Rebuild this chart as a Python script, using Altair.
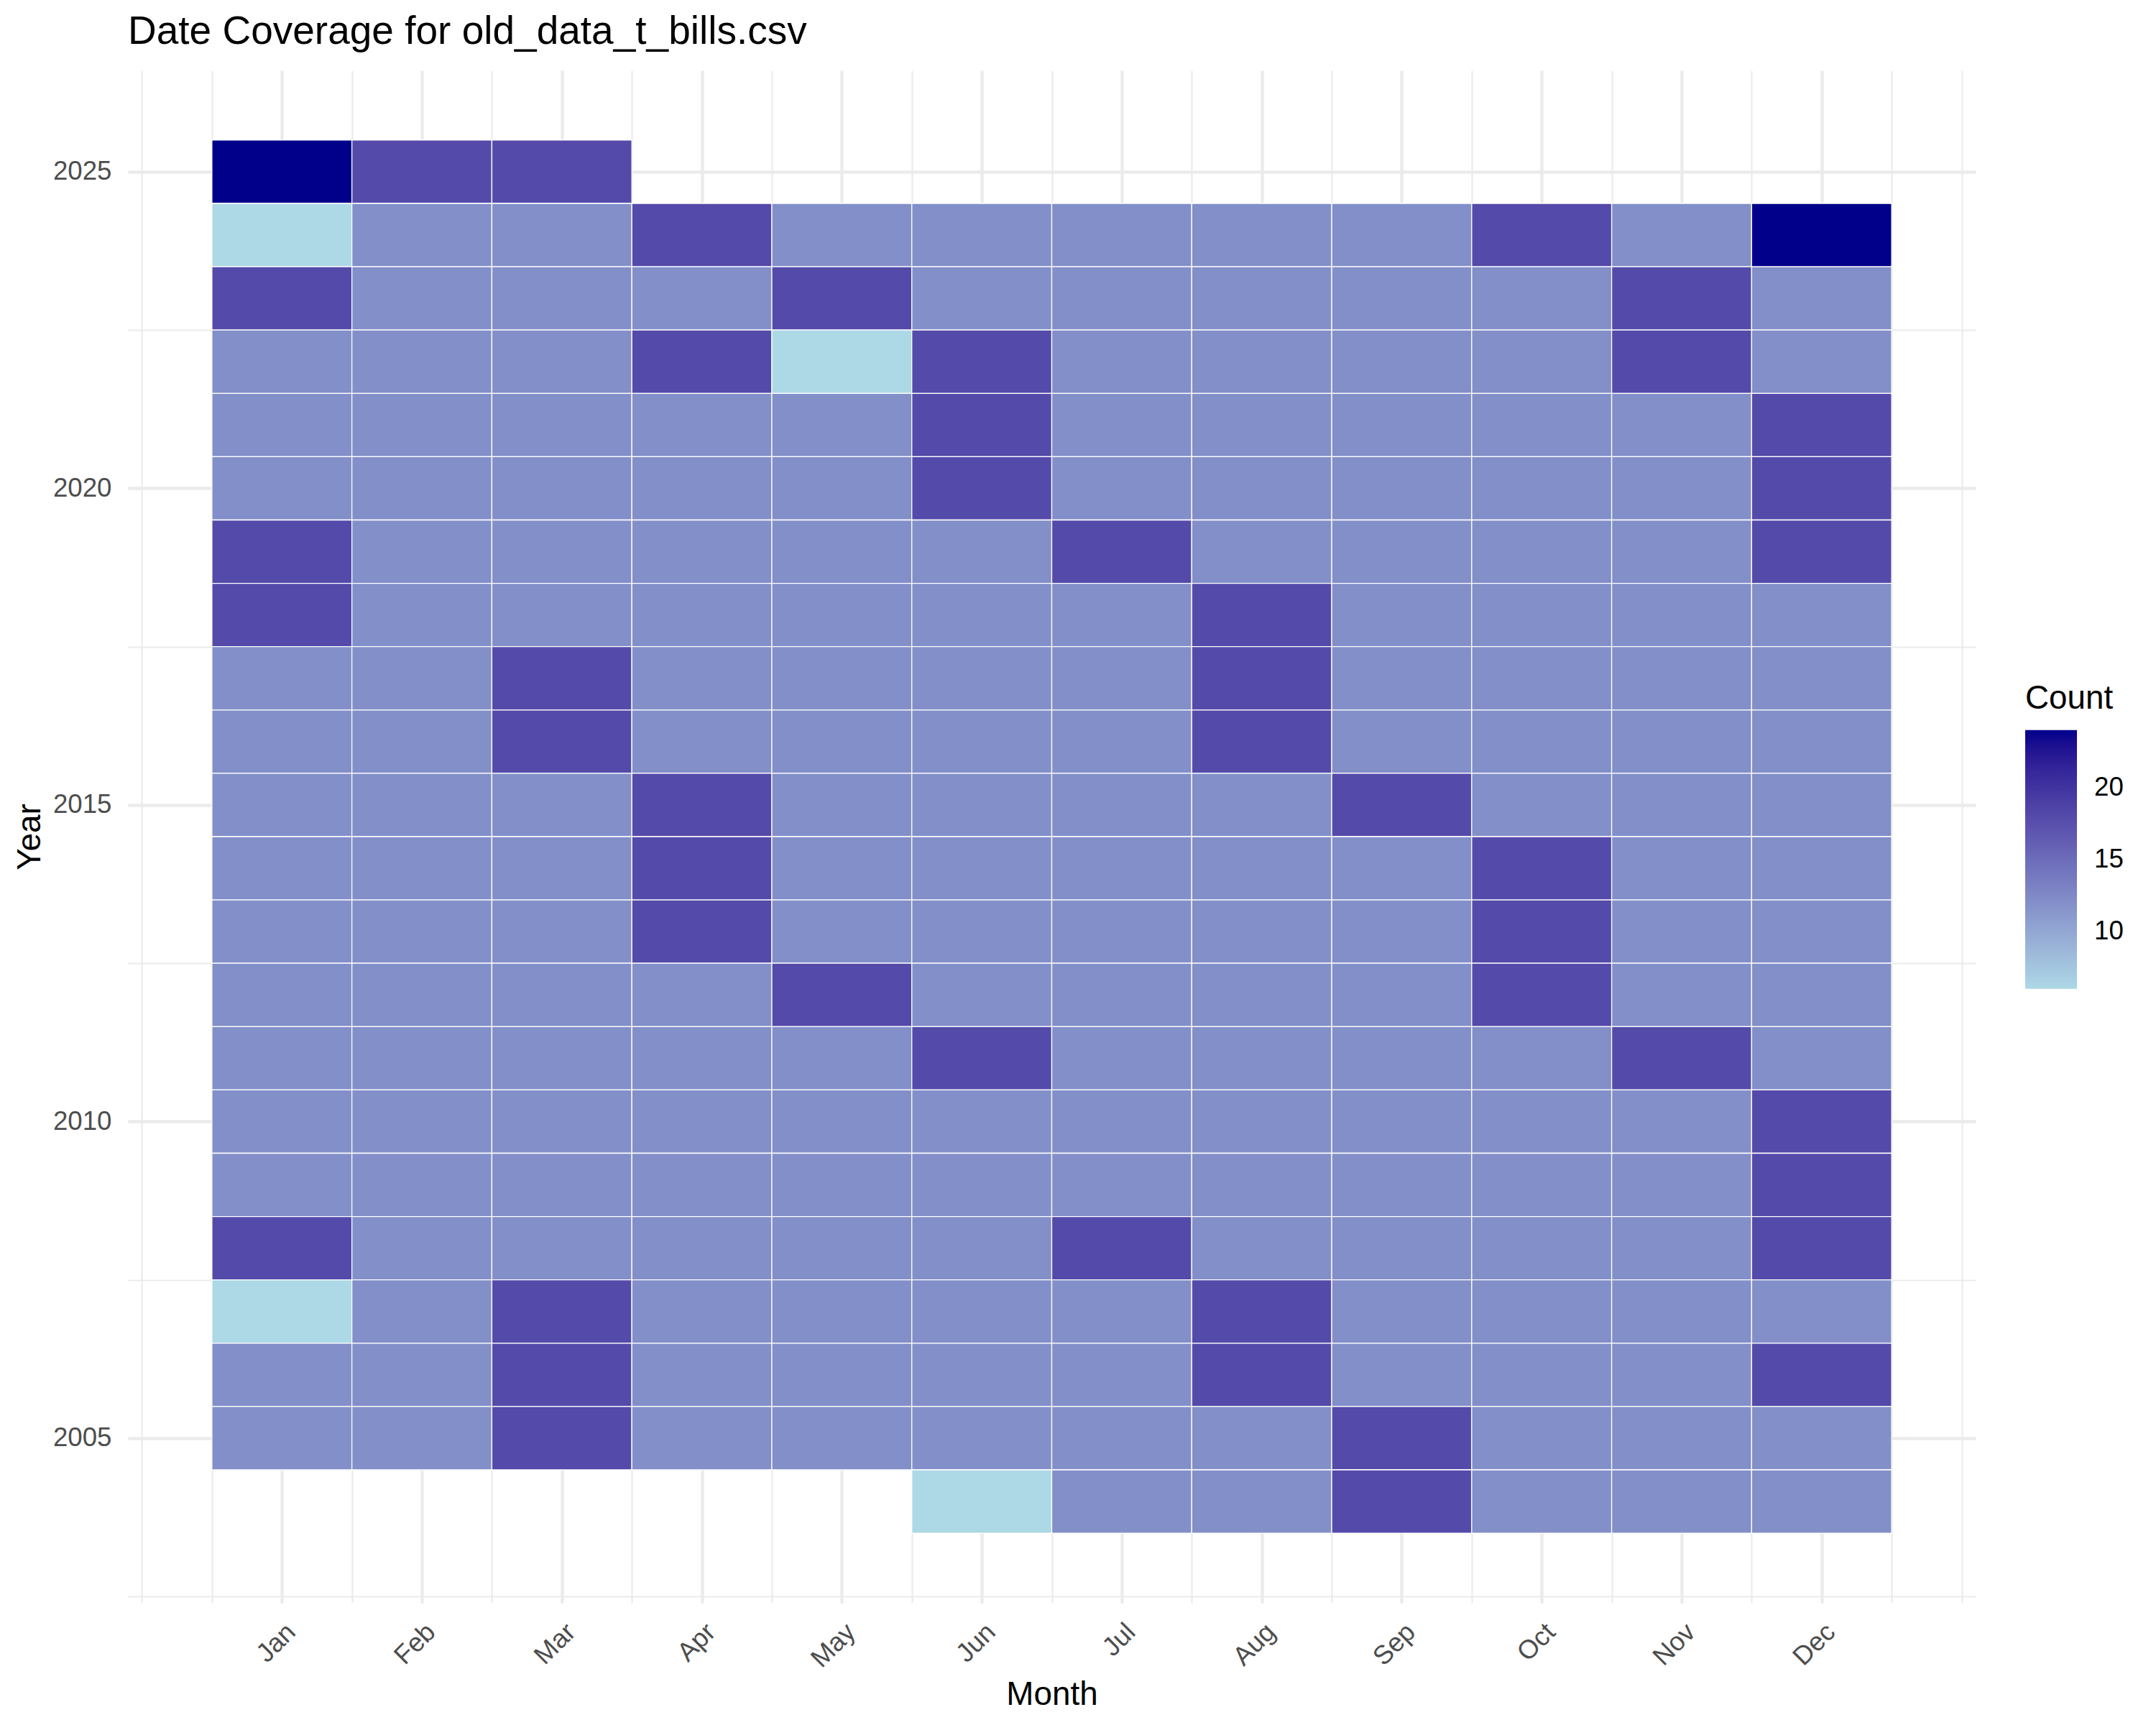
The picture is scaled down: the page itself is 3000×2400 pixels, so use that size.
import altair as alt
import pandas as pd

FONT = "Liberation Sans"

months = ["Jan", "Feb", "Mar", "Apr", "May", "Jun",
          "Jul", "Aug", "Sep", "Oct", "Nov", "Dec"]

# Count per month (Jan..Dec); None = no data
c2025 = [24, 18, 18, None, None, None, None, None, None, None, None, None]
c2024 = [6, 12, 12, 18, 12, 12, 12, 12, 12, 18, 12, 24]
c2023 = [18, 12, 12, 12, 18, 12, 12, 12, 12, 12, 18, 12]
c2022 = [12, 12, 12, 18, 6, 18, 12, 12, 12, 12, 18, 12]
c2021 = [12, 12, 12, 12, 12, 18, 12, 12, 12, 12, 12, 18]
c2020 = [12, 12, 12, 12, 12, 18, 12, 12, 12, 12, 12, 18]
c2019 = [18, 12, 12, 12, 12, 12, 18, 12, 12, 12, 12, 18]
c2018 = [18, 12, 12, 12, 12, 12, 12, 18, 12, 12, 12, 12]
c2017 = [12, 12, 18, 12, 12, 12, 12, 18, 12, 12, 12, 12]
c2016 = [12, 12, 18, 12, 12, 12, 12, 18, 12, 12, 12, 12]
c2015 = [12, 12, 12, 18, 12, 12, 12, 12, 18, 12, 12, 12]
c2014 = [12, 12, 12, 18, 12, 12, 12, 12, 12, 18, 12, 12]
c2013 = [12, 12, 12, 18, 12, 12, 12, 12, 12, 18, 12, 12]
c2012 = [12, 12, 12, 12, 18, 12, 12, 12, 12, 18, 12, 12]
c2011 = [12, 12, 12, 12, 12, 18, 12, 12, 12, 12, 18, 12]
c2010 = [12, 12, 12, 12, 12, 12, 12, 12, 12, 12, 12, 18]
c2009 = [12, 12, 12, 12, 12, 12, 12, 12, 12, 12, 12, 18]
c2008 = [18, 12, 12, 12, 12, 12, 18, 12, 12, 12, 12, 18]
c2007 = [6, 12, 18, 12, 12, 12, 12, 18, 12, 12, 12, 12]
c2006 = [12, 12, 18, 12, 12, 12, 12, 18, 12, 12, 12, 18]
c2005 = [12, 12, 18, 12, 12, 12, 12, 12, 18, 12, 12, 12]
c2004 = [None, None, None, None, None, 6, 12, 12, 18, 12, 12, 12]

years = [2025, 2024, 2023, 2022, 2021, 2020, 2019, 2018, 2017, 2016, 2015,
         2014, 2013, 2012, 2011, 2010, 2009, 2008, 2007, 2006, 2005, 2004]
rows = [c2025, c2024, c2023, c2022, c2021, c2020, c2019, c2018, c2017, c2016, c2015,
        c2014, c2013, c2012, c2011, c2010, c2009, c2008, c2007, c2006, c2005, c2004]

records = []
for yr, row in zip(years, rows):
    for i, v in enumerate(row):
        if v is not None:
            records.append({"Year": yr, "MonthNum": i + 1, "Month": months[i], "Count": v})
df = pd.DataFrame(records)

x_dom = [-0.1, 13.1]
y_dom = [2002.4, 2026.6]
major_x = list(range(1, 13))
minor_x = [i / 2 for i in range(0, 27)]
major_y = [2005, 2010, 2015, 2020, 2025]
minor_y = [2002.5 + 2.5 * i for i in range(0, 10)]
label_expr = "[" + ",".join(f"'{m}'" for m in months) + "][datum.value - 1]"

W, H = 2571, 2132
GRID = "#EBEBEB"

base = alt.Chart(df).transform_calculate(
    x0="datum.MonthNum - 0.5", x1="datum.MonthNum + 0.5",
    y0="datum.Year - 0.5", y1="datum.Year + 0.5",
)
xscale = alt.Scale(domain=x_dom, nice=False, zero=False)
yscale = alt.Scale(domain=y_dom, nice=False, zero=False)

minor = base.mark_rect(opacity=0).encode(
    x=alt.X("x0:Q", scale=xscale,
            axis=alt.Axis(orient="bottom", values=minor_x, grid=True, gridColor=GRID,
                          gridWidth=2.2, labels=False, ticks=False, tickSize=0,
                          domain=False, title="")),
    x2="x1:Q",
    y=alt.Y("y0:Q", scale=yscale,
            axis=alt.Axis(orient="left", values=minor_y, grid=True, gridColor=GRID,
                          gridWidth=2.2, labels=False, ticks=False, tickSize=0,
                          domain=False, title="")),
    y2="y1:Q",
)

tiles = base.mark_rect(stroke="white", strokeWidth=1.3).encode(
    x=alt.X("x0:Q", scale=xscale,
            axis=alt.Axis(orient="bottom", values=major_x, labelExpr=label_expr,
                          grid=True, gridColor=GRID, gridWidth=4.4,
                          ticks=False, tickSize=0, domain=False,
                          labelAngle=-45, labelAlign="right", labelBaseline="top",
                          labelPadding=22, labelFont=FONT, labelFontSize=36.7,
                          labelColor="#4D4D4D",
                          title="Month", titleFont=FONT, titleFontSize=45.8,
                          titleFontWeight="normal", titleColor="black",
                          titleBaseline="alphabetic", titleX=W / 2, titleY=141,
                          titleAlign="center")),
    x2="x1:Q",
    y=alt.Y("y0:Q", scale=yscale,
            axis=alt.Axis(orient="left", values=major_y, format="d",
                          grid=True, gridColor=GRID, gridWidth=4.4,
                          ticks=False, tickSize=0, domain=False,
                          labelPadding=23, labelFont=FONT, labelFontSize=36.7,
                          labelColor="#4D4D4D",
                          title="Year", titleFont=FONT, titleFontSize=45.8,
                          titleFontWeight="normal", titleColor="black",
                          titleAngle=270, titleBaseline="alphabetic",
                          titleX=-123, titleY=H / 2, titleAlign="center")),
    y2="y1:Q",
    color=alt.Color("Count:Q",
                    scale=alt.Scale(domain=[6, 24], range=["#ADD8E6", "#00008B"],
                                    interpolate="lab"),
                    legend=alt.Legend(title="Count", orient="none",
                                      legendX=2640, legendY=852,
                                      values=[10, 15, 20],
                                      gradientLength=360, gradientThickness=72,
                                      gradientStrokeWidth=0,
                                      titleFont=FONT, titleFontSize=45.8,
                                      titleFontWeight="normal", titleColor="black",
                                      titlePadding=20,
                                      labelFont=FONT, labelFontSize=36.7,
                                      labelColor="black", labelOffset=24)),
)

chart = alt.layer(minor, tiles).resolve_axis(x="independent", y="independent").properties(
    width=W, height=H,
    autosize=alt.AutoSizeParams(type="none"),
    padding={"left": 170, "top": 90, "right": 230, "bottom": 150},
    title=alt.Title("Date Coverage for old_data_t_bills.csv", anchor="start", frame="group",
                    fontSize=55, font=FONT, fontWeight="normal", color="black",
                    baseline="alphabetic", offset=35, dy=53),
    background="white",
).configure_view(stroke="transparent")

chart.save("out.html", embed_options={"renderer": "svg", "actions": False})
